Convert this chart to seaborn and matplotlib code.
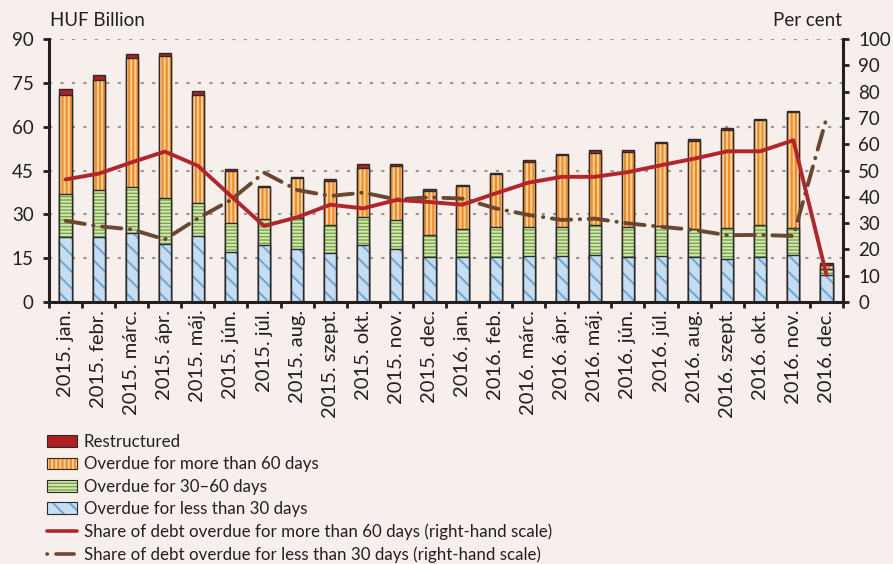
import numpy as np
import pandas as pd
import matplotlib
matplotlib.use("Agg")
import matplotlib.pyplot as plt
import matplotlib.patches as mpatches
import matplotlib.lines as mlines
from matplotlib.colors import to_rgba
import seaborn as sns

# ---------------- data ----------------
months = ["2015. jan.", "2015. febr.", "2015. márc.", "2015. ápr.", "2015. máj.",
          "2015. jún.", "2015. júl.", "2015. aug.", "2015. szept.", "2015. okt.",
          "2015. nov.", "2015. dec.", "2016. jan.", "2016. feb.", "2016. márc.",
          "2016. ápr.", "2016. máj.", "2016. jún.", "2016. júl.", "2016. aug.",
          "2016. szept.", "2016. okt.", "2016. nov.", "2016. dec."]

less30 = [22.1, 22.1, 23.5, 19.7, 22.6, 17.0, 19.4, 18.0, 16.7, 19.4, 18.0, 15.3,
          15.5, 15.3, 15.7, 15.7, 16.2, 15.3, 15.7, 15.3, 14.8, 15.5, 16.2, 9.1]
d30_60 = [14.9, 16.2, 15.7, 15.9, 11.2, 9.9, 8.9, 10.6, 9.5, 9.6, 10.1, 7.7,
          9.4, 10.5, 10.1, 10.1, 10.0, 10.5, 10.3, 9.8, 10.5, 10.7, 9.1, 2.3]
more60 = [33.8, 37.7, 44.2, 48.6, 37.0, 17.8, 11.1, 13.7, 15.2, 16.7, 18.4, 14.9,
          14.8, 18.0, 22.1, 24.4, 24.9, 25.7, 28.3, 30.1, 33.7, 36.1, 39.7, 1.1]
restructured = [2.0, 1.8, 1.3, 1.1, 1.5, 0.9, 0.2, 0.6, 0.6, 1.4, 0.6, 0.9,
                0.4, 0.4, 0.6, 0.4, 0.9, 0.4, 0.6, 0.5, 0.4, 0.4, 0.5, 0.9]

share_more60 = [46.6, 48.8, 53.1, 57.2, 51.8, 40.3, 28.9, 32.2, 37.0, 35.6, 38.8, 38.0,
                37.0, 41.3, 45.4, 47.6, 47.6, 49.4, 52.0, 54.5, 57.3, 57.3, 61.5, 10.3]
share_less30 = [30.9, 28.8, 27.6, 23.8, 31.8, 38.8, 49.2, 42.6, 40.3, 41.6, 39.0, 39.8,
                39.3, 35.6, 33.1, 31.2, 31.7, 29.9, 28.6, 27.4, 25.4, 25.5, 25.1, 69.8]

left_ticks = [0, 15, 30, 45, 60, 75, 90]
right_ticks = [0, 10, 20, 30, 40, 50, 60, 70, 80, 90, 100]

# ---------------- style ----------------
BG = "#F6EFEC"
TXT = "#231F20"
sns.set_theme(style="white")
plt.rcParams["font.family"] = ["Lato", "DejaVu Sans"]
plt.rcParams["hatch.linewidth"] = 1.4
plt.rcParams["text.color"] = TXT
plt.rcParams["axes.labelcolor"] = TXT
plt.rcParams["xtick.color"] = TXT
plt.rcParams["ytick.color"] = TXT

fig = plt.figure(figsize=(8.93, 5.64), dpi=100, facecolor=BG)
ax = fig.add_axes([49 / 893, 1 - 302 / 564, (843 - 49) / 893, (302 - 39) / 564])
ax.set_facecolor(BG)

df = pd.DataFrame({"month": months, "lt30": less30, "d3060": d30_60,
                   "gt60": more60, "restr": restructured})
df["c1"] = df["lt30"]
df["c2"] = df["c1"] + df["d3060"]
df["c3"] = df["c2"] + df["gt60"]
df["c4"] = df["c3"] + df["restr"]

# (column, face, hatch, hatch colour)
layers = [
    ("c4", "#B01F24", None, None),
    ("c3", "#F58A1F", "||||", "#FDD3A2"),
    ("c2", "#78A740", "-----", "#D3E6B6"),
    ("c1", "#C6DDF1", "\\\\", "#6BA6D6"),
]
EDGE = "#2B2B2B"
W = 0.37
for col, face, hatch, hcol in layers:
    n0 = len(ax.patches)
    sns.barplot(data=df, x="month", y=col, order=months, color=face, saturation=1,
                width=W, edgecolor=EDGE, linewidth=1.0, hatch=hatch, ax=ax, zorder=2)
    if hcol is not None:
        for p in ax.patches[n0:]:
            p._hatch_color = to_rgba(hcol)

ax.set_xlim(-0.5, 23.5)
ax.set_ylim(0, 90)
ax.set_yticks(left_ticks)
ax.set_xlabel("")
ax.set_ylabel("")
ax.set_xticks(np.arange(-0.5, 24, 1))
ax.set_xticklabels([""] * 25)
ax.set_xticks(np.arange(24), minor=True)
ax.set_xticklabels(months, minor=True, rotation=90, fontsize=14.5, ha="center", va="top")
ax.tick_params(axis="x", which="major", direction="out", length=4, width=2, color=TXT, bottom=True)
ax.tick_params(axis="x", which="minor", length=0, pad=5.5, bottom=True)
ax.tick_params(axis="y", direction="out", length=4, width=2, color=TXT, labelsize=13.5, pad=7, left=True)
ax.yaxis.grid(True, color="#959595", linestyle=(0, (1.5, 4.0)), linewidth=1.5, zorder=0)
ax.set_axisbelow(True)
for s in ["top", "right"]:
    ax.spines[s].set_visible(False)
ax.spines["left"].set_color(TXT)
ax.spines["left"].set_linewidth(2.2)
ax.spines["bottom"].set_color(TXT)
ax.spines["bottom"].set_linewidth(2.2)

# right axis with shares
ax2 = ax.twinx()
ax2.set_ylim(0, 100)
ax2.set_yticks(right_ticks)
xs = np.arange(24)
ldf = pd.DataFrame({"x": xs, "gt60": share_more60, "lt30": share_less30})
sns.lineplot(data=ldf, x="x", y="lt30", ax=ax2, color="#6B4630", linewidth=2.8,
             linestyle=(0, (5.0, 2.2, 0.1, 2.2)), dash_capstyle="round", zorder=3)
sns.lineplot(data=ldf, x="x", y="gt60", ax=ax2, color="#B3252A", linewidth=2.8, zorder=4)
ax2.set_xlim(-0.5, 23.5)
ax2.set_xlabel("")
ax2.set_ylabel("")
ax2.tick_params(axis="y", direction="out", length=4, width=2, color=TXT, labelsize=13.5, pad=7, right=True)
for s in ["top", "left", "bottom"]:
    ax2.spines[s].set_visible(False)
ax2.spines["right"].set_color(TXT)
ax2.spines["right"].set_linewidth(2.2)
ax2.grid(False)

fig.text(50 / 893, 1 - 20 / 564, "HUF Billion", fontsize=13.5, ha="left", va="center", color=TXT)
fig.text(842 / 893, 1 - 20 / 564, "Per cent", fontsize=13.5, ha="right", va="center", color=TXT)

# legend
def hp(face, hatch, hcol):
    p = mpatches.Patch(facecolor=face, edgecolor=EDGE, linewidth=0.8, hatch=hatch)
    if hcol is not None:
        p._hatch_color = to_rgba(hcol)
    return p

handles = [
    hp("#B01F24", None, None),
    hp("#F58A1F", "||||", "#FDD3A2"),
    hp("#78A740", "-----", "#D3E6B6"),
    hp("#C6DDF1", "\\\\", "#6BA6D6"),
    mlines.Line2D([], [], color="#B3252A", linewidth=2.6),
    mlines.Line2D([], [], color="#6B4630", linewidth=2.6,
                  linestyle=(0, (0.1, 2.4, 5.0, 2.4, 0.1, 2.0)), dash_capstyle="round"),
]
labels = ["Restructured", "Overdue for more than 60 days", "Overdue for 30–60 days",
          "Overdue for less than 30 days",
          "Share of debt overdue for more than 60 days (right-hand scale)",
          "Share of debt overdue for less than 30 days (right-hand scale)"]
fig.legend(handles, labels, loc="upper left", bbox_to_anchor=(47 / 893, 1 - 434 / 564),
           frameon=False, fontsize=12.2, handlelength=1.75, handleheight=0.7,
           labelspacing=0.38, handletextpad=0.42, borderaxespad=0, borderpad=0)

fig.savefig("out.png", dpi=100, facecolor=BG)
